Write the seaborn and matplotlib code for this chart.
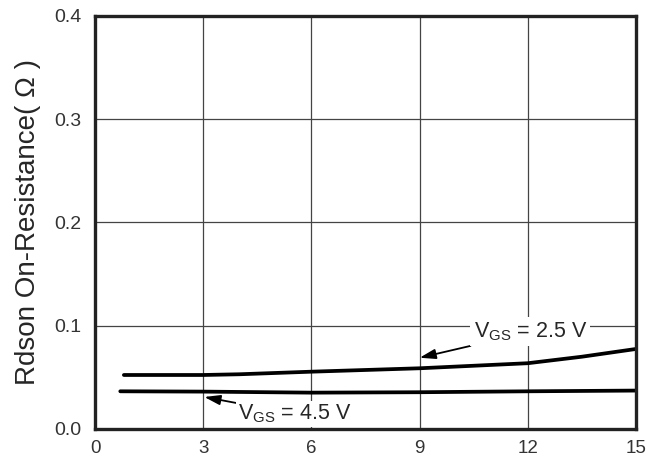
import pandas as pd
import numpy as np
import matplotlib
matplotlib.use('Agg')
import matplotlib.pyplot as plt
import seaborn as sns

# values
id_25 = [0.8, 3, 4, 6, 9, 12, 13.5, 15]
rds_25 = [0.0523, 0.0523, 0.053, 0.0555, 0.0588, 0.0637, 0.070, 0.0775]
id_45 = [0.7, 3, 6, 9, 12, 15]
rds_45 = [0.0365, 0.0362, 0.0352, 0.0356, 0.0365, 0.0372]
series_names = ['VGS=2.5V', 'VGS=4.5V']
x_ticks = [0, 3, 6, 9, 12, 15]
y_ticks = [0.0, 0.1, 0.2, 0.3, 0.4]

df = pd.concat([
    pd.DataFrame({'id': id_25, 'rds': rds_25, 'vgs': series_names[0]}),
    pd.DataFrame({'id': id_45, 'rds': rds_45, 'vgs': series_names[1]}),
])

sns.set_style('white')
plt.rcParams['font.family'] = ['Liberation Sans', 'DejaVu Sans']

fig = plt.figure(figsize=(6.59, 4.57), dpi=100)
ax = fig.add_axes([0.1442, 0.0613, 0.8209, 0.9037])

sns.lineplot(data=df, x='id', y='rds', hue='vgs', palette=['black', 'black'],
             linewidth=2.7, legend=False, ax=ax, sort=True, zorder=3)

ax.set_xlim(0, 15)
ax.set_ylim(0, 0.4)
ax.set_xticks(x_ticks)
ax.set_xticklabels([str(t) for t in x_ticks])
ax.set_yticks(y_ticks)
ax.set_yticklabels([f'{t:.1f}' for t in y_ticks])
ax.tick_params(axis='both', length=0, labelsize=14, colors='#333333')
ax.tick_params(axis='x', pad=8, labelsize=13.5)
ax.tick_params(axis='y', pad=10)
ax.set_xlabel('')
ax.set_ylabel('Rdson On-Resistance( \u03a9 )', fontsize=20, labelpad=9)

ax.grid(True, color='#444444', linewidth=0.9)
for s in ax.spines.values():
    s.set_visible(True)
    s.set_linewidth(2.4)
    s.set_color('#222222')
    s.set_zorder(6)

arrow = dict(arrowstyle='-|>,head_length=0.8,head_width=0.25', color='black',
             lw=1.3, mutation_scale=12, shrinkA=0, shrinkB=0)
ax.annotate(r'V$_\mathregular{GS}$ = 2.5 V', xy=(9.0, 0.069), xytext=(10.5, 0.094),
            fontsize=15.5, va='center', ha='left',
            bbox=dict(boxstyle='square,pad=0.15', fc='white', ec='none'),
            arrowprops=arrow, zorder=4)
ax.annotate(r'V$_\mathregular{GS}$ = 4.5 V', xy=(3.03, 0.031), xytext=(3.97, 0.0145),
            fontsize=15.5, va='center', ha='left',
            bbox=dict(boxstyle='square,pad=0.1', fc='white', ec='none'),
            arrowprops=arrow, zorder=4)

fig.savefig('out.png', dpi=100)
